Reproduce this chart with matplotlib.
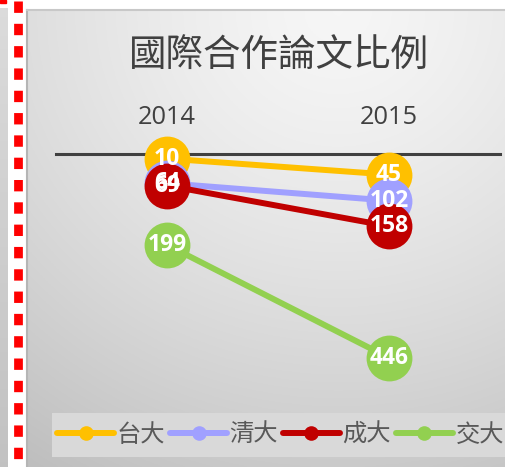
import numpy as np
import matplotlib
matplotlib.use("Agg")
import matplotlib.pyplot as plt
from matplotlib.patches import Rectangle
from matplotlib.lines import Line2D

plt.rcParams['font.family'] = ['Noto Sans CJK TC', 'DejaVu Sans']

# ---- data ----
years = ["2014", "2015"]
series_names = ["台大", "清大", "成大", "交大"]
taida = [10, 45]
tsinghua = [64, 102]
chengda = [69, 158]
jiaoda = [199, 446]
series_values = [taida, tsinghua, chengda, jiaoda]
colors = ["#FFC000", "#A0A0FF", "#C00000", "#92D050"]
title = "國際合作論文比例"

W, H = 506, 467
fig = plt.figure(figsize=(W / 100, H / 100), dpi=100)
fig.patch.set_facecolor("white")

def fx(px):
    return px / W

def fy(py):
    return 1 - py / H

# background panel with radial gradient
bg = fig.add_axes([fx(27), 0, 1 - fx(27), fy(10)])
bg.set_axis_off()
ny, nx = 300, 300
yy, xx = np.mgrid[0:1:ny * 1j, 0:1:nx * 1j]
r = np.sqrt((xx - 0.65) ** 2 + yy ** 2) / 1.19
grad = 0.965 - 0.22 * np.clip(r, 0, 1.2) ** 1.4
bg.imshow(np.dstack([grad, grad, grad]), aspect="auto", extent=[0, 1, 0, 1], origin="upper")
bg.set_xlim(0, 1); bg.set_ylim(0, 1)
fig.add_artist(Line2D([fx(27), fx(27)], [0, fy(10)], color="#b5b5b5", lw=1.5, transform=fig.transFigure))
fig.add_artist(Line2D([fx(27), 1], [fy(10), fy(10)], color="#c8c8c8", lw=1.5, transform=fig.transFigure))

# left strip
strip = fig.add_axes([0, 0, fx(8), fy(8)])
strip.set_axis_off()
sg = np.linspace(0.86, 0.76, 100)[:, None] * np.ones((100, 2))
strip.imshow(np.dstack([sg, sg, sg]), aspect="auto", extent=[0, 1, 0, 1])
fig.add_artist(Rectangle((0, fy(3)), fx(6), 3 / H, color="red", transform=fig.transFigure))

# red dotted border
fig.add_artist(Line2D([fx(17.5), fx(17.5)], [fy(1), 0], color="#ff0000", lw=6.3,
                      linestyle=(0, (1.3, 1.25)), solid_capstyle="butt", dash_capstyle="butt",
                      transform=fig.transFigure))

# title
fig.text(fx(278.5), fy(55), title, ha="center", va="center", fontsize=27, color="#404040")

# main axes
ax_top, ax_bot = 154, 382.5
ax = fig.add_axes([fx(56), fy(ax_bot), fx(500) - fx(56), (ax_bot - ax_top) / H])
ax.patch.set_alpha(0)
x = np.arange(len(years))
for name, vals, c in zip(series_names, series_values, colors):
    ax.plot(x, vals, color=c, lw=4.3, marker="o", markersize=33, markeredgewidth=0,
            solid_capstyle="round", label=name, zorder=3, clip_on=False)
for vals in series_values:
    for xi, v in zip(x, vals):
        ax.text(xi, v, str(v), ha="center", va="center", color="white", fontsize=16.5,
                fontweight="bold", family="Open Sans", zorder=5)
ax.set_xlim(-0.5, 1.5)
ax.set_ylim(500, 0)
ax.set_yticks([])
ax.xaxis.tick_top()
ax.set_xticks(x)
ax.set_xticklabels(years, family="Open Sans", fontsize=18.3, color="#404040")
ax.tick_params(axis="x", length=0, pad=17)
for s in ["left", "right", "bottom"]:
    ax.spines[s].set_visible(False)
ax.spines["top"].set_color("#404040")
ax.spines["top"].set_linewidth(2.2)
ax.spines["top"].set_zorder(2)

# legend
fig.add_artist(Rectangle((fx(52), fy(457)), 1 - fx(52), 44 / H, facecolor="#d9d9d9",
                         edgecolor="none", transform=fig.transFigure, zorder=1))
handles = [Line2D([], [], color=c, lw=4.3, marker="o", markersize=10.5, markeredgewidth=0,
                  solid_capstyle="round") for c in colors]
leg = fig.legend(handles, series_names, loc="center", bbox_to_anchor=(fx(280.5), fy(435)),
                 ncol=4, frameon=False, fontsize=17.5, handlelength=2.35, handletextpad=0.1,
                 columnspacing=0.2, borderpad=0.2)
for t in leg.get_texts():
    t.set_color("#595959")

fig.savefig("out.png", dpi=100, facecolor="white")
